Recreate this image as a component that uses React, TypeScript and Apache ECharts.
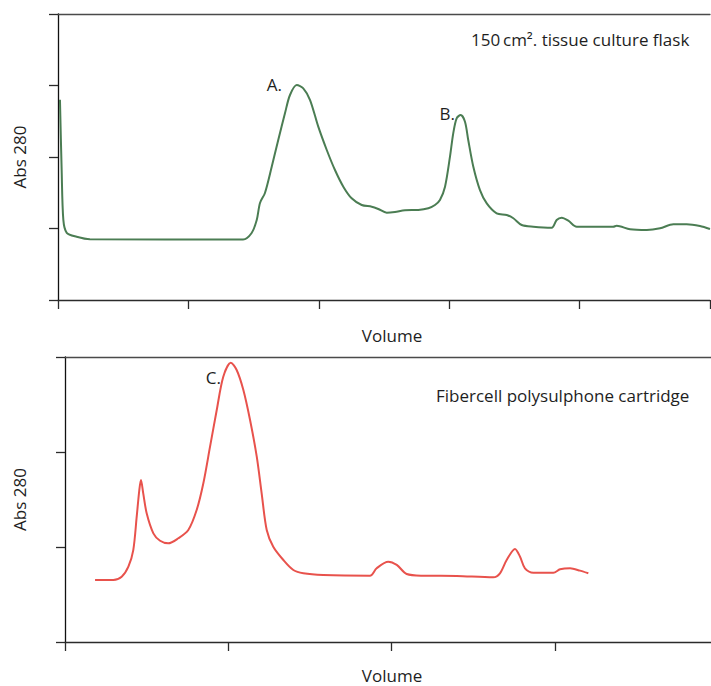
import React, { useEffect, useRef } from "react";
import * as echarts from "echarts";

// Top panel: 150 cm² tissue culture flask
const topVolume = [0.015, 0.028, 0.041, 0.067, 0.143, 0.245, 1.419, 1.485, 1.524, 1.549, 1.587, 1.639, 1.689, 1.741, 1.779, 1.831, 1.881, 1.933, 1.996, 2.061, 2.124, 2.188, 2.252, 2.329, 2.406, 2.456, 2.521, 2.584, 2.661, 2.763, 2.84, 2.891, 2.929, 2.968, 3.006, 3.031, 3.057, 3.088, 3.121, 3.146, 3.185, 3.236, 3.288, 3.364, 3.441, 3.492, 3.556, 3.645, 3.786, 3.824, 3.863, 3.913, 3.978, 4.105, 4.258, 4.284, 4.387, 4.515, 4.617, 4.719, 4.821, 4.923, 5.0];
const topAbs = [2.8, 1.82, 1.12, 0.94, 0.885, 0.85, 0.846, 0.937, 1.119, 1.357, 1.497, 1.864, 2.238, 2.615, 2.867, 3.007, 2.961, 2.797, 2.424, 2.098, 1.818, 1.585, 1.422, 1.329, 1.305, 1.273, 1.221, 1.231, 1.255, 1.259, 1.283, 1.329, 1.399, 1.585, 2.004, 2.331, 2.541, 2.587, 2.494, 2.238, 1.864, 1.538, 1.352, 1.213, 1.189, 1.143, 1.049, 1.025, 1.011, 1.119, 1.151, 1.109, 1.025, 1.025, 1.025, 1.039, 0.989, 0.979, 1.003, 1.059, 1.059, 1.035, 0.993];

// Bottom panel: Fibercell polysulphone cartridge
const bottomVolume = [0.184, 0.296, 0.347, 0.388, 0.418, 0.439, 0.455, 0.465, 0.479, 0.5, 0.541, 0.582, 0.632, 0.694, 0.755, 0.806, 0.847, 0.888, 0.929, 0.969, 1.015, 1.051, 1.092, 1.133, 1.174, 1.204, 1.235, 1.275, 1.337, 1.398, 1.459, 1.581, 1.867, 1.908, 1.979, 2.031, 2.092, 2.194, 2.398, 2.622, 2.663, 2.704, 2.755, 2.786, 2.816, 2.867, 2.99, 3.031, 3.092, 3.153, 3.204];
const bottomAbs = [0.653, 0.653, 0.687, 0.793, 0.968, 1.319, 1.6, 1.705, 1.565, 1.355, 1.144, 1.066, 1.039, 1.092, 1.179, 1.389, 1.671, 2.056, 2.442, 2.793, 2.94, 2.863, 2.653, 2.337, 1.951, 1.565, 1.179, 1.003, 0.863, 0.758, 0.723, 0.705, 0.698, 0.776, 0.845, 0.811, 0.716, 0.698, 0.695, 0.681, 0.723, 0.863, 0.979, 0.898, 0.776, 0.729, 0.729, 0.765, 0.776, 0.751, 0.723];

const topTicksX = [0, 1, 2, 3, 4, 5];
const bottomTicksX = [0, 1, 2, 3];

const FONT = "'Open Sans', 'Noto Sans', sans-serif";
const AXIS = "#2b2b2b";
const TXT = "#1e1e1e";

export default function App() {
  const ref = useRef<HTMLDivElement>(null);
  useEffect(() => {
    if (!ref.current) return;
    const chart = echarts.init(ref.current, null, { renderer: "svg" });
    const topData = topVolume.map((v, i) => [v, topAbs[i]]);
    const bottomData = bottomVolume.map((v, i) => [v, bottomAbs[i]]);

    const baseX = (grid: number, min: number, max: number, ticks: number[]) => ({
      type: "value",
      gridIndex: grid,
      min,
      max,
      interval: 1,
      position: "bottom",
      axisLine: { show: true, onZero: false, lineStyle: { color: AXIS, width: 1.3 } },
      axisTick: { show: true, length: 9, customValues: ticks, lineStyle: { color: AXIS, width: 1.3 } },
      axisLabel: { show: false },
      splitLine: { show: false },
    });
    const borderX = (grid: number, min: number, max: number) => ({
      type: "value",
      gridIndex: grid,
      min,
      max,
      position: "top",
      axisLine: { show: true, onZero: false, lineStyle: { color: "#4a4a4a", width: 1.3 } },
      axisTick: { show: false },
      axisLabel: { show: false },
      splitLine: { show: false },
    });
    const baseY = (grid: number, max: number, gap: number) => ({
      type: "value",
      gridIndex: grid,
      min: 0,
      max,
      interval: 1,
      name: "Abs 280",
      nameLocation: "middle",
      nameGap: gap,
      nameRotate: 90,
      nameTextStyle: { fontFamily: FONT, fontSize: 17, color: TXT },
      axisLine: { show: true, onZero: false, lineStyle: { color: "#111", width: 1.3 } },
      axisTick: { show: true, length: 9, lineStyle: { color: AXIS, width: 1.3 } },
      axisLabel: { show: false },
      splitLine: { show: false },
    });
    const txt = (text: string, x: number, y: number, align: string) => ({
      type: "text",
      x,
      y,
      style: { text, fontFamily: FONT, fontSize: 17, fill: TXT, verticalAlign: "middle", align },
    });

    chart.setOption({
      animation: false,
      backgroundColor: "#fff",
      grid: [
        { left: 58, top: 14, right: 1, height: 286, containLabel: false, outerBoundsMode: "none" },
        { left: 65, top: 357, right: 0, height: 285, containLabel: false, outerBoundsMode: "none" },
      ],
      xAxis: [
        baseX(0, 0, 5, topTicksX),
        borderX(0, 0, 5),
        baseX(1, 0, 3.955, bottomTicksX),
        borderX(1, 0, 3.955),
      ],
      yAxis: [baseY(0, 4, 30), baseY(1, 3, 37)],
      series: [
        {
          type: "line",
          xAxisIndex: 0,
          yAxisIndex: 0,
          data: topData,
          showSymbol: false,
          smooth: 0.3,
          lineStyle: { color: "#4b7d53", width: 2 },
        },
        {
          type: "line",
          xAxisIndex: 2,
          yAxisIndex: 1,
          data: bottomData,
          showSymbol: false,
          smooth: 0.3,
          lineStyle: { color: "#e8524c", width: 2 },
        },
      ],
      graphic: [
        txt("150\u2009cm². tissue culture flask", 471, 39, "left"),
        txt("Fibercell polysulphone cartridge", 436, 395, "left"),
        txt("A.", 282, 84, "right"),
        txt("B.", 455, 113, "right"),
        txt("C.", 221, 377, "right"),
        txt("Volume", 392, 335, "center"),
        txt("Volume", 392, 675, "center"),
      ],
    });
    return () => chart.dispose();
  }, []);
  return <div ref={ref} style={{ position: "fixed", left: 0, top: 0, width: 711, height: 686 }} />;
}
